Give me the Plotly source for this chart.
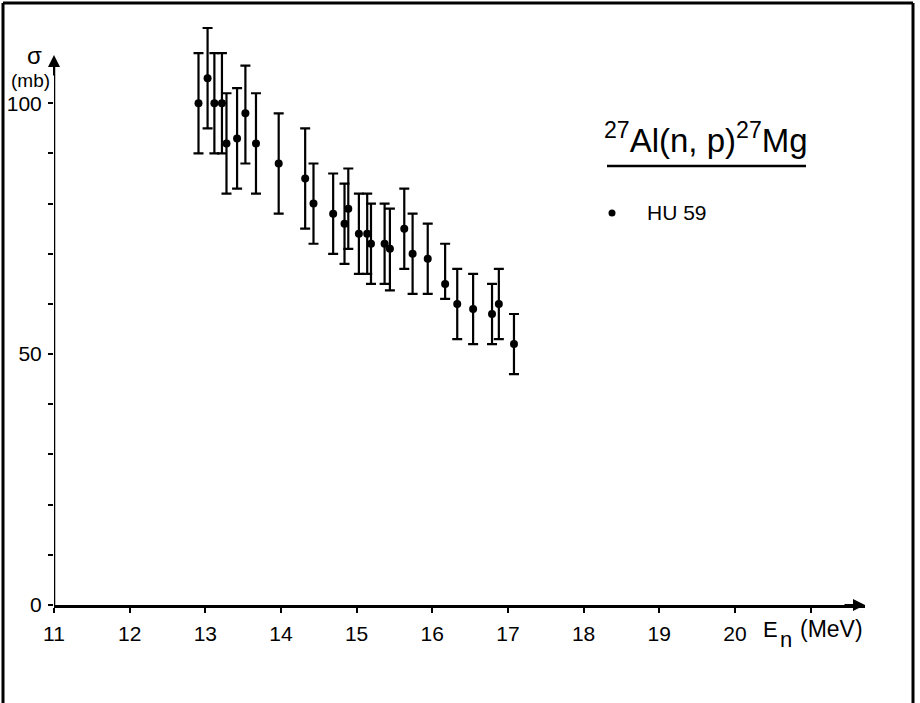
import plotly.graph_objects as go

# ---- data ----
energy_mev = [12.91, 13.03, 13.12, 13.22, 13.28, 13.42, 13.53, 13.67, 13.97, 14.32,
              14.43, 14.69, 14.84, 14.89, 15.03, 15.14, 15.19, 15.37, 15.44, 15.63,
              15.74, 15.94, 16.17, 16.33, 16.54, 16.79, 16.88, 17.08]
sigma_mb = [100, 105, 100, 100, 92, 93, 98, 92, 88, 85,
            80, 78, 76, 79, 74, 74, 72, 72, 71, 75,
            70, 69, 64, 60, 59, 58, 60, 52]
err_plus = [10, 10, 10, 10, 10, 10, 9.5, 10, 10, 10,
            8, 8, 8, 8, 8, 8, 8, 8, 8, 8,
            8, 7, 8, 7, 7, 6, 7, 6]
err_minus = [10, 10, 10, 10, 10, 10, 10, 10, 10, 10,
             8, 8, 8, 8, 8, 8, 8, 8, 8.3, 8,
             8, 7, 3, 7, 7, 6, 7, 6]
x_tickvals = [11, 12, 13, 14, 15, 16, 17, 18, 19, 20, 21]
x_ticktext = ["11", "12", "13", "14", "15", "16", "17", "18", "19", "20", ""]
y_tickvals = [0, 10, 20, 30, 40, 50, 60, 70, 80, 90, 100]
y_ticktext = ["0", "", "", "", "", "50", "", "", "", "", "100"]
series_name = "HU 59"
reaction = "<sup>27</sup>Al(n, p)<sup>27</sup>Mg"

# ---- layout geometry ----
W, H = 920, 703
L, R, T, B = 54, 55, 23, 98
PW, PH = W - L - R, H - T - B
XMIN, XMAX = 11, 21.72
YMIN, YMAX = 0, 116
Y_ARROW = 109.6


def pxp(px):
    return (px - L) / PW


def pyp(py):
    return (H - B - py) / PH


FONT = "Liberation Sans, Arial, sans-serif"

fig = go.Figure()
fig.add_trace(go.Scatter(
    x=energy_mev, y=sigma_mb, mode="markers", name=series_name,
    marker=dict(color="black", size=8),
    error_y=dict(type="data", symmetric=False, array=err_plus, arrayminus=err_minus,
                 color="black", thickness=2.2, width=5),
    showlegend=False, cliponaxis=False, hoverinfo="skip",
))

shapes = []
# outer frame (left, top, right; bottom edge lies below the picture)
for (x0, y0, x1, y1) in [(3, 3, 913, 3), (3, 3, 3, 710), (913, 3, 913, 710)]:
    shapes.append(dict(type="line", xref="paper", yref="paper",
                       x0=pxp(x0), y0=pyp(y0), x1=pxp(x1), y1=pyp(y1),
                       line=dict(color="black", width=3)))
# y axis line up to the arrow
shapes.append(dict(type="line", xref="x", yref="y", x0=XMIN, y0=0, x1=XMIN, y1=Y_ARROW - 2,
                   line=dict(color="black", width=2.5)))
# underline of reaction label
shapes.append(dict(type="line", xref="paper", yref="paper",
                   x0=pxp(607), y0=pyp(166), x1=pxp(806), y1=pyp(166),
                   line=dict(color="black", width=2.5)))
# legend dot
shapes.append(dict(type="circle", xref="paper", yref="paper",
                   x0=pxp(608.5), y0=pyp(209.5), x1=pxp(615.5), y1=pyp(216.5),
                   fillcolor="black", line=dict(color="black", width=0)))


def txt(px, py, text, size, xanchor="left"):
    return dict(x=pxp(px), y=pyp(py), xref="paper", yref="paper", text=text,
                showarrow=False, font=dict(family=FONT, size=size, color="black"),
                xanchor=xanchor, yanchor="middle")


annotations = [
    # axis arrows
    dict(x=XMAX, y=0, xref="x", yref="y", ax=-22, ay=0, axref="pixel", ayref="pixel",
         showarrow=True, arrowhead=2, arrowsize=1.2, arrowwidth=2, arrowcolor="black", text=""),
    dict(x=XMIN, y=Y_ARROW, xref="x", yref="y", ax=0, ay=22, axref="pixel", ayref="pixel",
         showarrow=True, arrowhead=2, arrowsize=1.2, arrowwidth=2, arrowcolor="black", text=""),
    # y axis label
    txt(34, 55, "σ", 24, "center"),
    txt(52, 81, "(mb)", 19, "right"),
    # x axis label: E, subscript n, (MeV)
    txt(761, 629, "E", 22),
    txt(778, 639, "n", 22),
    txt(798, 629, "(MeV)", 23),
    # reaction label
    txt(706, 138, reaction, 33, "center"),
    # legend text
    txt(645, 213, series_name, 21),
]

fig.update_layout(
    width=W, height=H,
    margin=dict(l=L, r=R, t=T, b=B, pad=0, autoexpand=False),
    paper_bgcolor="white", plot_bgcolor="white",
    font=dict(family=FONT, size=21, color="black"),
    shapes=shapes, annotations=annotations,
    xaxis=dict(range=[XMIN, XMAX], showgrid=False, zeroline=False,
               showline=True, linecolor="black", linewidth=2.5,
               ticks="outside", ticklen=5, tickwidth=2, tickcolor="black",
               tickvals=x_tickvals, ticktext=x_ticktext, ticklabelstandoff=3,
               tickfont=dict(family=FONT, size=21, color="black")),
    yaxis=dict(range=[YMIN, YMAX], showgrid=False, zeroline=False,
               showline=False,
               ticks="outside", ticklen=5, tickwidth=2, tickcolor="black",
               tickvals=y_tickvals, ticktext=y_ticktext, ticklabelstandoff=2,
               tickfont=dict(family=FONT, size=21, color="black")),
)

fig.write_html("out.html", config={"displayModeBar": False},
               post_script="document.body.style.margin='0px';")
